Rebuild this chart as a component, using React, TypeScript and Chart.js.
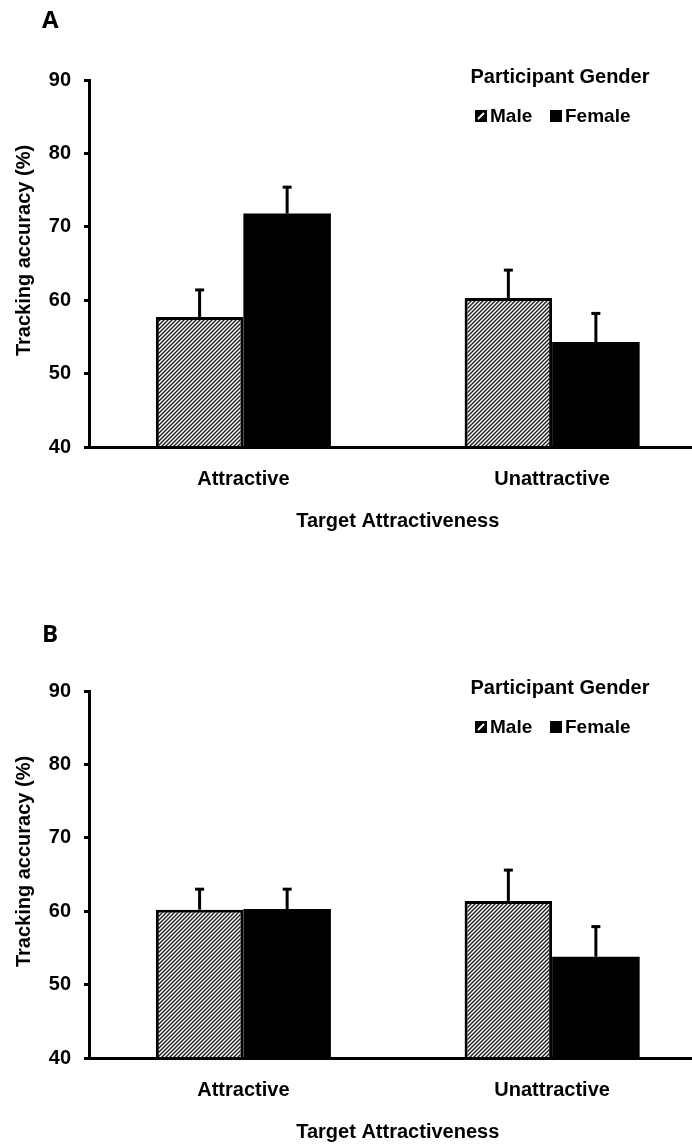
import React, { useEffect, useRef } from "react";
import { Chart, registerables } from "chart.js";

Chart.register(...registerables);

// ---------- data ----------
const categories = ["Attractive", "Unattractive"];
const seriesLabels = ["Male", "Female"];
const yTickValues = [40, 50, 60, 70, 80, 90];

const panelAMale = [57.7, 60.3];
const panelAFemale = [71.8, 54.3];
const panelAMaleErr = [3.7, 3.8];
const panelAFemaleErr = [3.6, 3.9];

const panelBMale = [60.2, 61.4];
const panelBFemale = [60.3, 53.8];
const panelBMaleErr = [2.8, 4.2];
const panelBFemaleErr = [2.7, 4.1];

const panelLetters = ["A", "B"];
const legendTitle = "Participant Gender";
const xTitle = "Target Attractiveness";
const yTitle = "Tracking accuracy (%)";

// ---------- styling ----------
const FONT = "'Liberation Sans', Arial, sans-serif";
const LETTER_FONT = "'Open Sans', 'Liberation Sans', sans-serif";
const CANVAS_W = 712;
const CANVAS_H = 611;

function makeHatch(): CanvasPattern | string {
  const c = document.createElement("canvas");
  c.width = 4;
  c.height = 4;
  const g = c.getContext("2d");
  if (!g) return "#888";
  g.fillStyle = "#ffffff";
  g.fillRect(0, 0, 4, 4);
  g.strokeStyle = "#1a1a1a";
  g.lineWidth = 1.4;
  g.beginPath();
  g.moveTo(-1, 5);
  g.lineTo(5, -1);
  g.moveTo(-1, 1);
  g.lineTo(1, -1);
  g.moveTo(3, 5);
  g.lineTo(5, 3);
  g.stroke();
  return g.createPattern(c, "repeat") || "#888";
}

const overlayPlugin = {
  id: "overlay",
  afterDatasetsDraw(chart: any) {
    const ctx = chart.ctx;
    const yScale = chart.scales.y;
    ctx.save();
    chart.data.datasets.forEach((ds: any, i: number) => {
      const meta = chart.getDatasetMeta(i);
      meta.data.forEach((el: any, j: number) => {
        const v = ds.data[j];
        const e = ds.errors[j];
        const top = yScale.getPixelForValue(v + e);
        ctx.strokeStyle = "#000";
        ctx.lineWidth = 3;
        ctx.beginPath();
        ctx.moveTo(el.x, el.y);
        ctx.lineTo(el.x, top);
        ctx.stroke();
        ctx.beginPath();
        ctx.moveTo(el.x - 4.5, top);
        ctx.lineTo(el.x + 4.5, top);
        ctx.stroke();
      });
    });
    ctx.restore();
    if (chart.scales.x && typeof chart.scales.x.drawBorder === "function") {
      chart.scales.x.drawBorder();
    }
  },
  afterDraw(chart: any, _args: any, opts: any) {
    const ctx = chart.ctx;
    const area = chart.chartArea;
    ctx.save();
    ctx.fillStyle = "#000";

    // panel letter
    ctx.font = `bold 24px ${LETTER_FONT}`;
    ctx.textAlign = "left";
    ctx.textBaseline = "alphabetic";
    ctx.fillText(opts.letter, 42, opts.letterBaseline);

    // y axis title
    ctx.save();
    ctx.translate(29.5, (area.top + area.bottom) / 2 - 13);
    ctx.rotate(-Math.PI / 2);
    ctx.font = `bold 20px ${FONT}`;
    ctx.textAlign = "center";
    ctx.textBaseline = "alphabetic";
    ctx.fillText(yTitle, 0, 0);
    ctx.restore();

    // legend
    ctx.font = `bold 20px ${FONT}`;
    ctx.textAlign = "center";
    ctx.textBaseline = "alphabetic";
    ctx.fillText(legendTitle, 560, 83);

    ctx.font = `bold 19px ${FONT}`;
    ctx.textAlign = "left";
    // male box
    const bx = 475;
    const by = 110;
    const bs = 12;
    ctx.fillStyle = "#000";
    ctx.fillRect(bx, by, bs, bs);
    ctx.strokeStyle = "#fff";
    ctx.lineWidth = 2;
    ctx.beginPath();
    ctx.moveTo(bx + 3, by + bs - 3);
    ctx.lineTo(bx + bs - 3, by + 3);
    ctx.stroke();
    ctx.fillText(seriesLabels[0], bx + 15, 122);
    // female box
    const fx = 550;
    ctx.fillRect(fx, by, bs, bs);
    ctx.fillText(seriesLabels[1], fx + 15, 122);

    ctx.restore();
  },
};

type PanelProps = {
  male: number[];
  female: number[];
  maleErr: number[];
  femaleErr: number[];
  letter: string;
  letterBaseline: number;
};

function Panel(props: PanelProps) {
  const ref = useRef<HTMLCanvasElement | null>(null);
  useEffect(() => {
    if (!ref.current) return;
    const hatch = makeHatch();
    const tickFont = { family: FONT, size: 20, weight: "bold" as const };
    const chart = new Chart(ref.current, {
      type: "bar",
      data: {
        labels: categories,
        datasets: [
          {
            label: seriesLabels[0],
            data: props.male,
            errors: props.maleErr,
            backgroundColor: hatch,
            borderColor: "#000",
            borderWidth: 3,
            barPercentage: 1,
            categoryPercentage: 0.567,
          } as any,
          {
            label: seriesLabels[1],
            data: props.female,
            errors: props.femaleErr,
            backgroundColor: "#000",
            borderColor: "#000",
            borderWidth: 0,
            barPercentage: 1,
            categoryPercentage: 0.567,
          } as any,
        ],
      },
      options: {
        responsive: false,
        animation: false,
        devicePixelRatio: 1,
        layout: { padding: { top: 80, right: 5.5, left: 0, bottom: 0 } },
        plugins: {
          legend: { display: false },
          tooltip: { enabled: false },
          overlay: { letter: props.letter, letterBaseline: props.letterBaseline },
        } as any,
        scales: {
          x: {
            type: "category",
            offset: true,
            grid: { display: false, drawTicks: false },
            border: { display: true, color: "#000", width: 3 },
            ticks: { color: "#000", font: tickFont, padding: 20, maxRotation: 0 },
            title: {
              display: true,
              text: xTitle,
              color: "#000",
              font: tickFont,
              padding: { top: 0, bottom: 78 },
            },
            afterFit: (s: any) => {
              s.height = 164;
            },
          },
          y: {
            type: "linear",
            min: 40,
            max: 90,
            afterBuildTicks: (s: any) => {
              s.ticks = yTickValues.map((v) => ({ value: v }));
            },
            grid: {
              display: true,
              drawOnChartArea: false,
              drawTicks: true,
              tickLength: 5,
              color: "#000",
              lineWidth: 3,
            },
            border: { display: true, color: "#000", width: 3 },
            ticks: { color: "#000", font: tickFont, padding: 13 },
            afterFit: (s: any) => {
              s.width = 89;
            },
          },
        } as any,
      },
      plugins: [overlayPlugin as any],
    });
    return () => chart.destroy();
  }, []);
  return (
    <div style={{ width: CANVAS_W, height: CANVAS_H }}>
      <canvas ref={ref} width={CANVAS_W} height={CANVAS_H} style={{ display: "block" }} />
    </div>
  );
}

export default function App() {
  return (
    <div
      style={{
        position: "absolute",
        left: 0,
        top: 0,
        width: 692,
        height: 1146,
        overflow: "hidden",
        background: "#fff",
      }}
    >
      <Panel
        male={panelAMale}
        female={panelAFemale}
        maleErr={panelAMaleErr}
        femaleErr={panelAFemaleErr}
        letter={panelLetters[0]}
        letterBaseline={28}
      />
      <Panel
        male={panelBMale}
        female={panelBFemale}
        maleErr={panelBMaleErr}
        femaleErr={panelBFemaleErr}
        letter={panelLetters[1]}
        letterBaseline={31}
      />
    </div>
  );
}
